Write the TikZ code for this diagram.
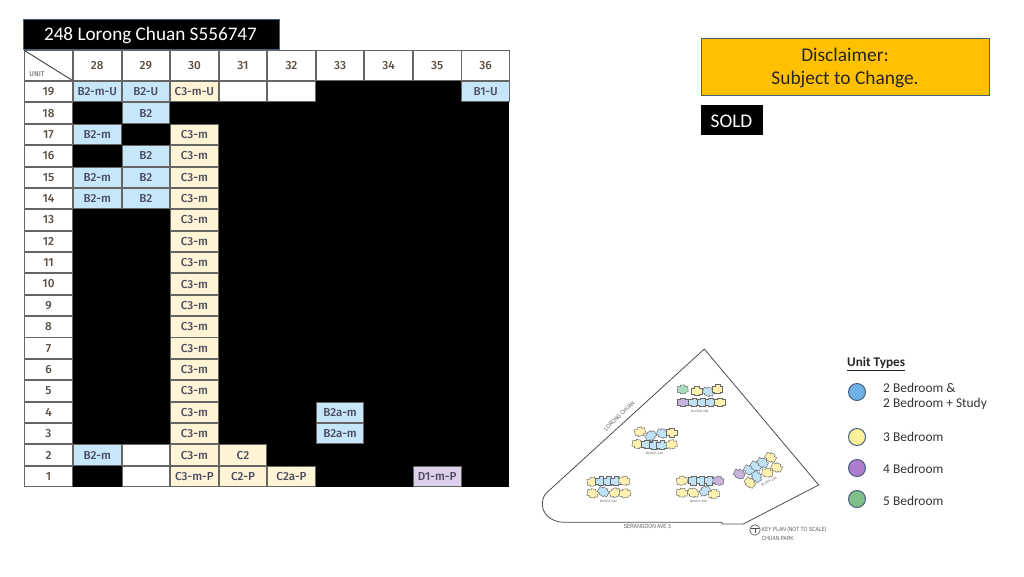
\documentclass[tikz,border=0pt]{standalone}
\usepackage{fontspec}
\setmainfont{Carlito}
\newfontfamily\cellf{Fira Sans}[BoldFont={Fira Sans Medium}]
\newfontfamily\planf{Liberation Sans}
\definecolor{cellb}{HTML}{C5E7F9}
\definecolor{celly}{HTML}{FFF5D6}
\definecolor{cellp}{HTML}{DDD0EA}
\definecolor{cellw}{HTML}{FFFFFF}
\definecolor{gridc}{HTML}{666666}
\definecolor{txtc}{HTML}{4B4B60}
\definecolor{headc}{HTML}{5A4F45}
\definecolor{boxedge}{HTML}{44607F}
\definecolor{amber}{HTML}{FFC000}
\definecolor{ku}{HTML}{FFF2B0}
\definecolor{kb}{HTML}{BFE3F5}
\definecolor{kp}{HTML}{C9B4E0}
\definecolor{kg}{HTML}{A9DCC0}
\definecolor{leg1}{HTML}{6FB0E6}
\definecolor{leg2}{HTML}{FFF09A}
\definecolor{leg3}{HTML}{AE7CCB}
\definecolor{leg4}{HTML}{80BF85}
\newcommand{\kpu}[4]{\draw[kpline,fill=#4,shift={(#1,#2)},rotate=#3] (-16,-9) -- (-6,-9) -- (-6,-13) -- (8,-13) -- (8,-8) -- (16,-8) -- (16,9) -- (8,9) -- (8,13) -- (-8,13) -- (-8,9) -- (-16,9) -- cycle;}
\newcommand{\nrw}[1]{\scalebox{0.82}[1]{#1}}
\tikzset{
 gridcell/.style={draw=gridc,line width=0.9pt,minimum width=47.6pt,minimum height=20.4pt,inner sep=0pt,text=txtc,font=\cellf\bfseries\fontsize{11.6}{13}\selectfont},
 headcell/.style={gridcell,fill=white,text=headc,font=\cellf\bfseries\fontsize{11.8}{13}\selectfont},
 kpline/.style={draw=black!60,line width=0.45pt},
 kptext/.style={text=black!65,inner sep=0pt,font=\planf\fontsize{6}{7}\selectfont},
 blocktext/.style={text=black!65,inner sep=0pt,font=\planf\fontsize{3.2}{4}\selectfont},
 legdot/.style={circle,draw=boxedge,line width=1pt,minimum size=17pt,inner sep=0pt},
 legtext/.style={anchor=west,inner sep=0pt,text=black!80,font=\fontsize{13.4}{15}\selectfont},
 infobox/.style={draw=boxedge,line width=0.6pt,inner sep=0pt,align=center},
}
\begin{document}
\begin{tikzpicture}[x=1pt,y=-1pt]
\useasboundingbox (0,0) rectangle (1024,576);
\node[infobox,fill=black,minimum width=256pt,minimum height=30pt] (title) at (151,34) {};
\node[text=white,inner sep=0pt,font=\fontsize{19.2}{22}\selectfont] (titletext) at (150.5,35.5) {248 Lorong Chuan S556747};
\node[infobox,fill=amber,minimum width=288pt,minimum height=57pt] (disc) at (845,66.5) {};
\node[text=black!85,inner sep=0pt,align=center,font=\fontsize{19.4}{23}\selectfont] (disctext) at (845,67.5) {Disclaimer:\\Subject to Change.};
\node[fill=black,minimum width=62pt,minimum height=30pt,inner sep=0pt] (sold) at (732,120) {};
\node[text=white,inner sep=0pt,font=\fontsize{19.3}{22}\selectfont] (soldtext) at (731.5,121) {SOLD};
% black body of the table
\fill[black] (73,81) rectangle (509,487);
% corner cell
\draw[gridc,line width=0.9pt,fill=white] (24.5,50.5) rectangle (72.5,80.5);
\draw[black!75,line width=0.9pt] (24.5,50.5) -- (72.5,80.5);
\node[text=black!50,inner sep=0pt,font=\cellf\bfseries\fontsize{7}{8}\selectfont] (unit) at (37,74) {UNIT};
% column heads
\foreach \c in {28,...,36}{
 \pgfmathsetmacro{\xx}{97.3+48.55*(\c-28)}
 \node[headcell,minimum height=30pt] (h\c) at (\xx,65.5) {\c};
}
% row heads
\foreach \r in {1,...,19}{
 \pgfmathsetmacro{\yy}{91.7+21.37*(19-\r)}
 \node[headcell,minimum width=48pt] (r\r) at (48.5,\yy) {\r};
}
% unit cells: column / row / colour / text
\foreach \c/\r/\k/\t in {
 28/19/cellb/B2-m-U,29/19/cellb/B2-U,30/19/celly/C3-m-U,31/19/cellw/,32/19/cellw/,36/19/cellb/B1-U,
 29/18/cellb/B2,
 28/17/cellb/B2-m,30/17/celly/C3-m,
 29/16/cellb/B2,30/16/celly/C3-m,
 28/15/cellb/B2-m,29/15/cellb/B2,30/15/celly/C3-m,
 28/14/cellb/B2-m,29/14/cellb/B2,30/14/celly/C3-m,
 30/13/celly/C3-m,30/12/celly/C3-m,30/11/celly/C3-m,30/10/celly/C3-m,30/9/celly/C3-m,
 30/8/celly/C3-m,30/7/celly/C3-m,30/6/celly/C3-m,30/5/celly/C3-m,
 30/4/celly/C3-m,33/4/cellb/B2a-m,
 30/3/celly/C3-m,33/3/cellb/B2a-m,
 28/2/cellb/B2-m,29/2/cellw/,30/2/celly/C3-m,31/2/celly/C2,
 29/1/cellw/,30/1/celly/C3-m-P,31/1/celly/C2-P,32/1/celly/C2a-P,35/1/cellp/D1-m-P}{
 \pgfmathsetmacro{\xx}{97.3+48.55*(\c-28)}
 \pgfmathsetmacro{\yy}{91.7+21.37*(19-\r)}
 \node[gridcell,fill=\k] (u\c-\r) at (\xx,\yy) {\t};
}
% key plan
\begin{scope}[shift={(530,340)},x=0.3333pt,y=-0.3333pt]
\draw[draw=black!70,line width=0.8pt,line join=round] (523,27) -- (866,435) -- (640,552) -- (578,552) -- (575,547) -- (100,547) .. controls (60,545) and (35,520) .. (37,488) .. controls (38,478) and (40,470) .. (48,460) -- cycle;
% block 248
\kpu{458}{148}{5}{kg}\kpu{500}{153}{0}{ku}\kpu{535}{155}{-20}{kb}\kpu{562}{147}{0}{ku}
\kpu{458}{187}{0}{kp}\kpu{492}{187}{0}{kb}\kpu{517}{187}{0}{kb}\kpu{542}{187}{0}{kb}\kpu{569}{187}{0}{ku}
\node[blocktext] (b248) at (510,215) {BLOCK 248};
% block 244
\kpu{330}{275}{15}{ku}\kpu{362}{287}{30}{kb}\kpu{397}{280}{-20}{kb}\kpu{425}{278}{0}{ku}
\kpu{323}{312}{-10}{ku}\kpu{350}{313}{0}{kb}\kpu{373}{315}{0}{kb}\kpu{396}{315}{0}{kb}\kpu{425}{313}{10}{ku}
\node[blocktext] (b244) at (373,340) {BLOCK 244};
% block 242
\kpu{188}{425}{10}{ku}\kpu{213}{423}{0}{kb}\kpu{235}{423}{0}{kb}\kpu{258}{423}{0}{kb}\kpu{283}{422}{-10}{ku}
\kpu{188}{460}{-10}{ku}\kpu{220}{455}{-30}{kb}\kpu{255}{458}{20}{ku}\kpu{285}{460}{5}{ku}
\node[blocktext] (b242) at (235,484) {BLOCK 242};
% block 250
\kpu{456}{422}{10}{ku}\kpu{490}{422}{0}{kb}\kpu{515}{422}{0}{kb}\kpu{538}{422}{0}{kb}\kpu{565}{422}{-10}{kp}
\kpu{456}{458}{-5}{ku}\kpu{490}{458}{-20}{ku}\kpu{525}{453}{30}{kb}\kpu{552}{462}{5}{ku}
\node[blocktext] (b250) at (505,484) {BLOCK 250};
% block 246
\kpu{628}{402}{-25}{kp}\kpu{658}{390}{-30}{kb}\kpu{678}{378}{-30}{kb}\kpu{698}{368}{-30}{kb}\kpu{722}{352}{-30}{ku}
\kpu{660}{428}{-40}{ku}\kpu{680}{410}{-60}{kb}\kpu{712}{398}{-10}{ku}\kpu{740}{382}{-25}{ku}
\node[blocktext,rotate=30] (b246) at (717,425) {BLOCK 246};
\node[kptext,rotate=44] (lc) at (268,228) {\nrw{LORONG CHUAN}};
\node[kptext] (sa) at (352,559) {\nrw{SERANGOON AVE 3}};
\node[kptext,anchor=west] (kp1) at (695,569) {\nrw{KEY PLAN (NOT TO SCALE)}};
\node[kptext,anchor=west] (kp2) at (695,594) {\nrw{CHUAN PARK}};
\node[circle,draw=black!70,line width=0.6pt,minimum size=10.5pt,inner sep=0pt] (north) at (675,570) {};
\draw[black!70,line width=0.6pt] (663,565) -- (687,565) (675,565) -- (675,580);
\end{scope}
% legend
\node[anchor=west,inner sep=0pt,text=black!85,font=\bfseries\fontsize{13.2}{15}\selectfont] (lt) at (847,364) {\underline{Unit Types}};
\node[legdot,fill=leg1] (d1) at (857,392) {};
\node[legdot,fill=leg2] (d2) at (857,437) {};
\node[legdot,fill=leg3] (d3) at (857,468) {};
\node[legdot,fill=leg4] (d4) at (857,499) {};
\node[legtext] (t1) at (883,388) {2 Bedroom \&};
\node[legtext] (t1b) at (883,404) {2 Bedroom + Study};
\node[legtext] (t2) at (883,437) {3 Bedroom};
\node[legtext] (t3) at (883,469) {4 Bedroom};
\node[legtext] (t4) at (883,501) {5 Bedroom};
\end{tikzpicture}
\end{document}
